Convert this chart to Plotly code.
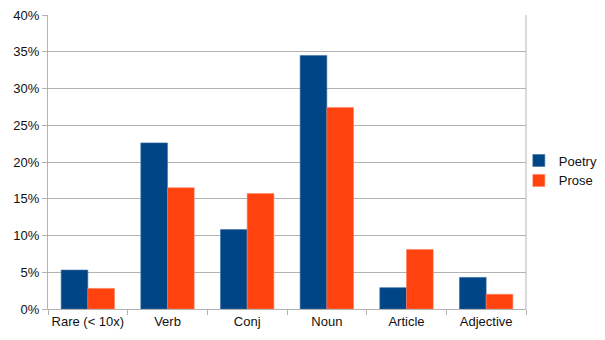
import plotly.graph_objects as go

categories = ["Rare (< 10x)", "Verb", "Conj", "Noun", "Article", "Adjective"]
poetry = [5.3, 22.6, 10.8, 34.5, 2.9, 4.3]
prose = [2.8, 16.5, 15.7, 27.4, 8.1, 2.0]

fig = go.Figure()
fig.add_trace(go.Bar(name="Poetry", x=categories, y=poetry, marker_color="#004586",
                     marker_line=dict(color="#3a6fa6", width=0.6)))
fig.add_trace(go.Bar(name="Prose", x=categories, y=prose, marker_color="#ff420e",
                     marker_line=dict(color="#ff8060", width=0.6)))

fig.update_layout(
    width=605, height=340,
    margin=dict(l=48, r=79, t=15, b=31, autoexpand=False),
    paper_bgcolor="white", plot_bgcolor="white",
    barmode="group", bargap=0.33, bargroupgap=0,
    font=dict(family="Liberation Sans, Arial, sans-serif", size=13, color="#111111"),
    legend=dict(x=0.985, xanchor="left", y=0.471, yanchor="middle",
                font=dict(size=13), tracegroupgap=0, itemwidth=30,
                bgcolor="rgba(0,0,0,0)"),
    showlegend=True,
)
fig.update_xaxes(
    showline=True, linecolor="#b3b3b3", linewidth=1,
    ticks="outside", ticklen=5, tickcolor="#b3b3b3", tickson="boundaries",
    showgrid=False, mirror=False, tickangle=0, automargin=False,
)
fig.update_yaxes(
    range=[0, 40], dtick=5, ticksuffix="%",
    showline=True, linecolor="#b3b3b3", linewidth=1,
    showgrid=True, gridcolor="#b3b3b3", gridwidth=1,
    ticks="outside", ticklen=5, tickcolor="#b3b3b3",
    zeroline=False, automargin=False,
)
fig.add_shape(type="line", xref="paper", yref="paper", x0=1, x1=1, y0=0, y1=1,
              line=dict(color="#b3b3b3", width=1))

fig.write_html("out.html")
